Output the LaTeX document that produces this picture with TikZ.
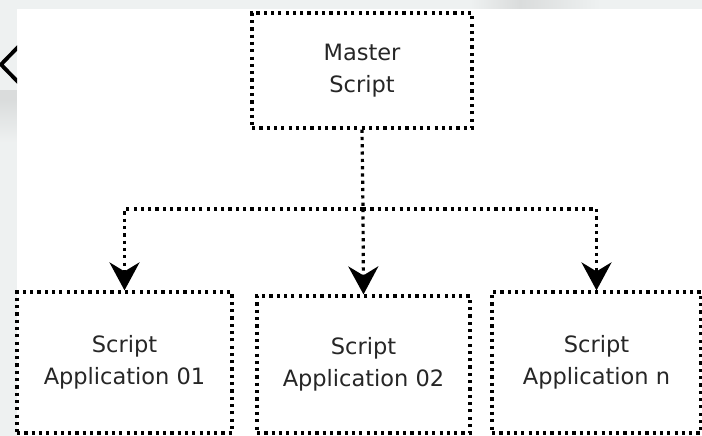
\documentclass[tikz,border=0pt]{standalone}
\usepackage{fontspec}
\setmainfont{DejaVu Sans}
\usetikzlibrary{arrows.meta}
\definecolor{pagegrey}{HTML}{EEF1F1}
\definecolor{bandgrey}{HTML}{DADCDC}
\definecolor{txt}{HTML}{262626}
\tikzset{
  dotline/.style={line width=3.2pt, dash pattern=on 3.2pt off 4.1pt, black},
  scriptbox/.style={draw, dotline, inner sep=0pt, align=center, text=txt,
    font=\fontsize{22.5}{32.5}\selectfont},
  tipline/.style={dotline, -{Stealth[length=28pt,width=30pt,inset=9pt]}}
}
\begin{document}
\begin{tikzpicture}[x=1pt, y=-1pt]
  \useasboundingbox (0,0) rectangle (702,436);
  % page background with the grey margin strips
  \fill[pagegrey] (0,0) rectangle (702,436);
  \fill[bandgrey] (0,90) rectangle (17,100);
  \shade[top color=bandgrey, bottom color=pagegrey] (0,100) rectangle (17,142);
  \shade[left color=pagegrey, right color=bandgrey] (470,0) rectangle (520,9);
  \shade[left color=bandgrey, right color=pagegrey] (520,0) rectangle (600,9);
  \fill[white] (17,9) rectangle (702,436);
  % back chevron at the left margin
  \begin{scope}
    \clip (0,0) rectangle (17,436);
    \draw[line width=3.8pt, black] (19,46) -- (1,64.5) -- (19,83);
  \end{scope}

  % boxes
  \node[scriptbox, minimum width=220pt, minimum height=115pt] (master) at (362,70.5) {Master\\Script};
  \node[scriptbox, minimum width=215pt, minimum height=141pt] (app1) at (124.5,362.5) {Script\\Application 01};
  \node[scriptbox, minimum width=213pt, minimum height=137pt] (app2) at (363.5,364.5) {Script\\Application 02};
  \node[scriptbox, minimum width=209pt, minimum height=141pt] (app3) at (596.5,362.5) {Script\\Application n};

  % connectors
  \coordinate (hub) at (363,209);
  \draw[dotline] (master.south) -- (hub);
  \draw[tipline] (hub) -| (app1.north);
  \draw[tipline] (hub) -- (app2.north);
  \draw[tipline] (hub) -| (app3.north);
\end{tikzpicture}
\end{document}
